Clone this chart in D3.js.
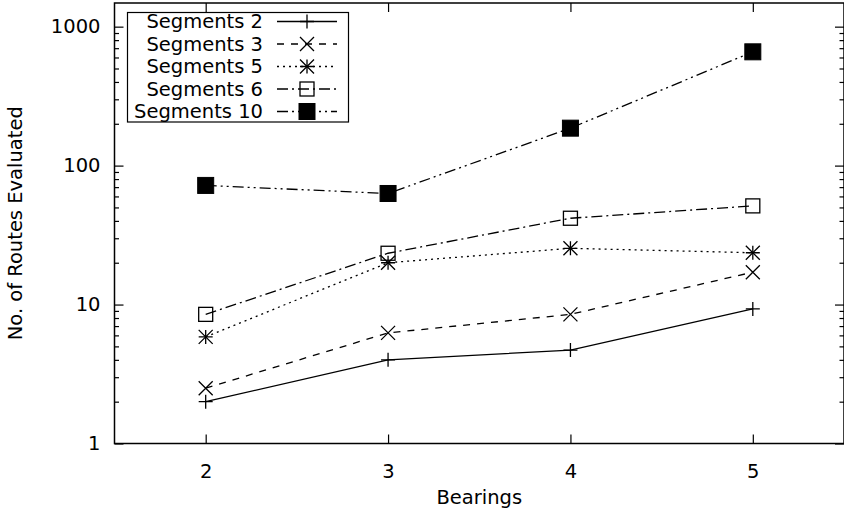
<!DOCTYPE html>
<html>
<head>
<meta charset="utf-8">
<script src="https://cdn.jsdelivr.net/npm/d3@7"></script>
<style>
  html, body { margin: 0; padding: 0; background: #fff; }
  svg { display: block; }
  text { font-family: "DejaVu Sans", sans-serif; fill: #000; }
</style>
</head>
<body>
<svg id="chart" width="844" height="512"></svg>
<script>
// Routes evaluated per number of bearings, one series per segment count
const bearings = [2, 3, 4, 5];
const seriesNames = ["Segments 2", "Segments 3", "Segments 5", "Segments 6", "Segments 10"];
const seg2  = [2.0, 4.0, 4.7, 9.3];
const seg3  = [2.5, 6.25, 8.5, 17.1];
const seg5  = [5.85, 20.0, 25.4, 23.6];
const seg6  = [8.5, 23.4, 41.8, 51.3];
const seg10 = [72, 63, 186, 659];
const yTickValues = [1, 10, 100, 1000];
const xTickValues = [2, 3, 4, 5];

const seriesValues = [seg2, seg3, seg5, seg6, seg10];
const dashes = [null, "7,7", "2,4", "11,4,2,4", "11,4,2,4,2,4"];
const markers = ["plus", "cross", "star", "square", "filled"];

const svg = d3.select("#chart");
const plotLeft = 114.5, plotRight = 844, plotTop = 3, plotBottom = 443.5;

const x = d3.scaleLinear().domain([1.5, 5.5]).range([plotLeft, plotRight]);
const y = d3.scaleLog().domain([1, 1480]).range([plotBottom, plotTop]);

const FONT = 19.5;

// minor ticks 2..9 in every decade
const minorTicks = [];
for (let d = 1; d <= 1000; d *= 10) {
  for (let k = 2; k <= 9; k++) {
    const v = k * d;
    if (v < 1480) minorTicks.push(v);
  }
}

function styleAxis(g) {
  g.select(".domain").remove();
  g.selectAll(".tick line").attr("stroke", "#000").attr("stroke-width", 1.2);
  g.selectAll(".tick text").attr("font-size", FONT).attr("fill", "#000")
    .style("font-family", "'DejaVu Sans', sans-serif");
}

// left axis: major ticks with labels, pointing inward
svg.append("g").attr("transform", `translate(${plotLeft},0)`)
  .call(d3.axisLeft(y).tickValues(yTickValues).tickFormat(d3.format("d")).tickSize(-9).tickPadding(14))
  .call(styleAxis);
svg.append("g").attr("transform", `translate(${plotLeft},0)`)
  .call(d3.axisLeft(y).tickValues(minorTicks).tickFormat("").tickSize(-4.5))
  .call(styleAxis);

// right axis: mirrored ticks
svg.append("g").attr("transform", `translate(${plotRight},0)`)
  .call(d3.axisRight(y).tickValues(yTickValues).tickFormat("").tickSize(-9))
  .call(styleAxis);
svg.append("g").attr("transform", `translate(${plotRight},0)`)
  .call(d3.axisRight(y).tickValues(minorTicks).tickFormat("").tickSize(-4.5))
  .call(styleAxis);

// bottom axis
svg.append("g").attr("transform", `translate(0,${plotBottom})`)
  .call(d3.axisBottom(x).tickValues(xTickValues).tickFormat(d3.format("d")).tickSize(-9).tickPadding(21))
  .call(styleAxis);
// top axis: mirrored ticks
svg.append("g").attr("transform", `translate(0,${plotTop})`)
  .call(d3.axisTop(x).tickValues(xTickValues).tickFormat("").tickSize(-9))
  .call(styleAxis);

// frame
svg.append("rect")
  .attr("x", plotLeft).attr("y", plotTop)
  .attr("width", plotRight - plotLeft).attr("height", plotBottom - plotTop)
  .attr("fill", "none").attr("stroke", "#000").attr("stroke-width", 1.5);

// axis titles
svg.append("text")
  .attr("x", (plotLeft + plotRight) / 2).attr("y", 504)
  .attr("text-anchor", "middle").attr("font-size", FONT)
  .text("Bearings");
svg.append("text")
  .attr("transform", `translate(22,${(plotTop + plotBottom) / 2}) rotate(-90)`)
  .attr("text-anchor", "middle").attr("font-size", FONT)
  .text("No. of Routes Evaluated");

function drawMarker(g, type, cx, cy) {
  const s = 7;
  if (type === "plus" || type === "star") {
    g.append("path").attr("d", `M${cx - s},${cy}H${cx + s}M${cx},${cy - s}V${cy + s}`)
      .attr("stroke", "#000").attr("stroke-width", 1.3).attr("fill", "none");
  }
  if (type === "cross" || type === "star") {
    g.append("path").attr("d", `M${cx - s},${cy - s}L${cx + s},${cy + s}M${cx - s},${cy + s}L${cx + s},${cy - s}`)
      .attr("stroke", "#000").attr("stroke-width", 1.3).attr("fill", "none");
  }
  if (type === "square") {
    g.append("rect").attr("x", cx - s).attr("y", cy - s).attr("width", 2 * s).attr("height", 2 * s)
      .attr("stroke", "#000").attr("stroke-width", 1.3).attr("fill", "none");
  }
  if (type === "filled") {
    g.append("rect").attr("x", cx - 8).attr("y", cy - 8).attr("width", 16).attr("height", 16)
      .attr("stroke", "#000").attr("stroke-width", 1).attr("fill", "#000");
  }
}

const line = d3.line().x(d => x(d[0])).y(d => y(d[1]));

seriesValues.forEach((vals, i) => {
  const g = svg.append("g");
  const pts = bearings.map((b, j) => [b, vals[j]]);
  g.append("path")
    .datum(pts)
    .attr("d", line)
    .attr("fill", "none")
    .attr("stroke", "#000")
    .attr("stroke-width", 1.3)
    .attr("stroke-dasharray", dashes[i]);
  pts.forEach(p => drawMarker(g, markers[i], x(p[0]), y(p[1])));
});

// legend
const legend = svg.append("g");
legend.append("rect")
  .attr("x", 127.5).attr("y", 12.5).attr("width", 221).attr("height", 109.5)
  .attr("fill", "#fff").attr("stroke", "#000").attr("stroke-width", 1.2);
seriesNames.forEach((name, i) => {
  const cy = 21.5 + i * 22.5;
  legend.append("text")
    .attr("x", 263).attr("y", cy).attr("dy", "0.35em")
    .attr("text-anchor", "end").attr("font-size", FONT)
    .text(name);
  legend.append("line")
    .attr("x1", 277).attr("x2", 337).attr("y1", cy).attr("y2", cy)
    .attr("stroke", "#000").attr("stroke-width", 1.3)
    .attr("stroke-dasharray", dashes[i]);
  drawMarker(legend, markers[i], 307, cy);
});
</script>
</body>
</html>
